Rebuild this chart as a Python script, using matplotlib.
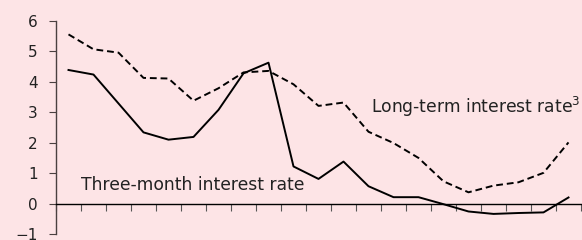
import matplotlib
matplotlib.use("Agg")
import matplotlib.pyplot as plt

# three-month and long-term interest rates, 21 periods
three_month = [4.39, 4.24, 3.29, 2.34, 2.10, 2.19, 3.08, 4.28, 4.63, 1.22, 0.81,
               1.38, 0.57, 0.21, 0.21, -0.02, -0.26, -0.34, -0.31, -0.29, 0.20]
long_term = [5.56, 5.07, 4.96, 4.13, 4.11, 3.38, 3.79, 4.31, 4.36, 3.92, 3.21,
             3.32, 2.36, 1.99, 1.50, 0.73, 0.37, 0.59, 0.70, 1.01, 2.01]
y_ticks = [-1, 0, 1, 2, 3, 4, 5, 6]

bg = '#fde4e6'
x = list(range(len(three_month)))

fig = plt.figure(figsize=(5.82, 2.4), dpi=100, facecolor=bg)
ax = fig.add_axes([56 / 582, 6 / 240, 525 / 582, 213 / 240], facecolor=bg)

ax.plot(x, three_month, color='black', lw=1.4)
ax.plot(x, long_term, color='black', lw=1.4, ls=(0, (3.5, 2)))

ax.set_xlim(-0.5, len(x) - 0.5)
ax.set_ylim(-1, 6)

for s in ['top', 'right']:
    ax.spines[s].set_visible(False)
ax.spines['bottom'].set_position(('data', 0))
ax.spines['bottom'].set_linewidth(1.0)
ax.spines['left'].set_color('#4a4040')
ax.spines['left'].set_linewidth(1.0)

ax.set_xticks([i - 0.5 for i in range(len(x) + 1)])
ax.set_xticklabels([])
ax.tick_params(axis='x', direction='out', length=5, width=0.8, color='#555555')
ax.set_yticks(y_ticks)
ax.tick_params(axis='y', direction='out', length=5, width=0.8, color='#4a4040',
               labelsize=11, pad=8, labelcolor='#222222')

ax.text(0.5, 0.62, 'Three-month interest rate', fontsize=12.3, va='center',
        color='#222222')
ax.text(12.1, 3.18, 'Long-term interest rate$^3$', fontsize=12.3, va='center',
        color='#222222')

fig.savefig('out.png', dpi=100, facecolor=bg)
